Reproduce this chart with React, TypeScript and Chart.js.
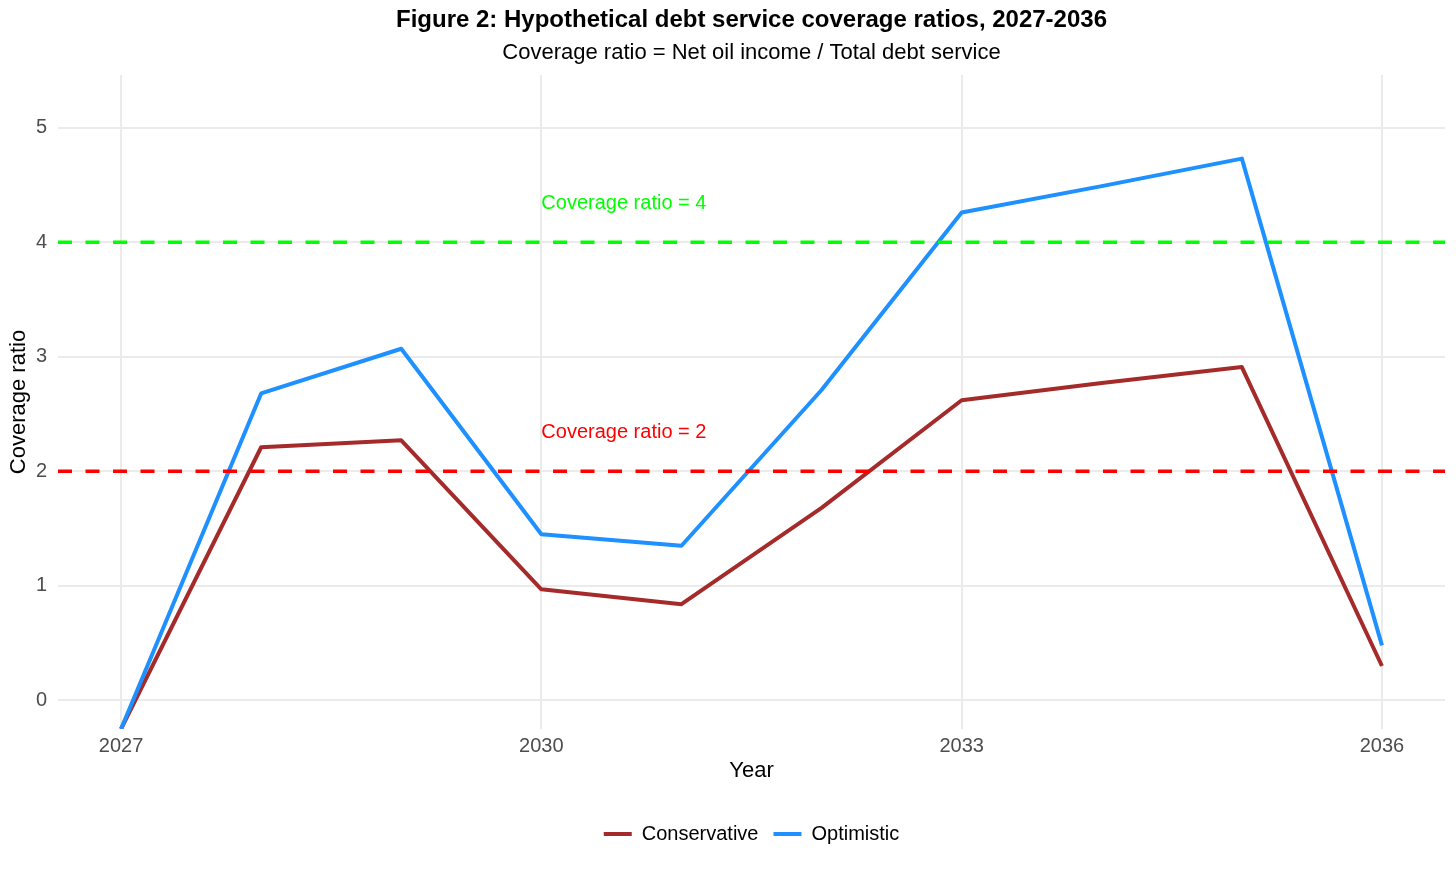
import { useEffect, useRef } from "react";
import { Chart, registerables, Plugin } from "chart.js";

Chart.register(...registerables);

const FONT = '"Liberation Sans", Arial, Helvetica, sans-serif';

// values
const YEARS = [2027, 2028, 2029, 2030, 2031, 2032, 2033, 2034, 2035, 2036];
const CONSERVATIVE = [-0.25, 2.21, 2.27, 0.97, 0.84, 1.68, 2.62, 2.77, 2.91, 0.3];
const OPTIMISTIC = [-0.25, 2.68, 3.07, 1.45, 1.35, 2.71, 4.26, 4.49, 4.73, 0.48];

const X_TICKS = [2027, 2030, 2033, 2036];
const Y_TICKS = [0, 1, 2, 3, 4, 5];

const THRESHOLDS = [4, 2];
const THRESHOLD_COLORS = ["#00FF00", "#FF0000"];
const LABEL_YEAR = 2030;

const X_MIN = 2026.55;
const X_MAX = 2036.45;
const Y_MIN = -0.25;
const Y_MAX = 5.46;

const thresholdLabels: Plugin<"line"> = {
  id: "thresholdLabels",
  afterDatasetsDraw(chart) {
    const { ctx, scales } = chart;
    ctx.save();
    ctx.font = `20px ${FONT}`;
    ctx.textAlign = "left";
    ctx.textBaseline = "middle";
    THRESHOLDS.forEach((t, i) => {
      ctx.fillStyle = THRESHOLD_COLORS[i];
      ctx.fillText(
        `Coverage ratio = ${t}`,
        scales.x.getPixelForValue(LABEL_YEAR),
        scales.y.getPixelForValue(t + 0.34)
      );
    });
    ctx.restore();
  },
};

const CoverageChart = () => {
  const canvasRef = useRef<HTMLCanvasElement>(null);

  useEffect(() => {
    if (!canvasRef.current) return;
    const chart = new Chart(canvasRef.current, {
      type: "line",
      data: {
        datasets: [
          {
            label: "Conservative",
            data: YEARS.map((x, i) => ({ x, y: CONSERVATIVE[i] })),
            borderColor: "#A52A2A",
            backgroundColor: "#A52A2A",
            borderWidth: 4,
            pointRadius: 0,
            borderJoinStyle: "round",
            order: 3,
          },
          {
            label: "Optimistic",
            data: YEARS.map((x, i) => ({ x, y: OPTIMISTIC[i] })),
            borderColor: "#1E90FF",
            backgroundColor: "#1E90FF",
            borderWidth: 4,
            pointRadius: 0,
            borderJoinStyle: "round",
            order: 2,
          },
          ...THRESHOLDS.map((t, i) => ({
            label: `threshold-${t}`,
            data: [
              { x: X_MIN, y: t },
              { x: X_MAX, y: t },
            ],
            borderColor: THRESHOLD_COLORS[i],
            borderWidth: 3.5,
            borderDash: [14, 13.5],
            pointRadius: 0,
            order: 1,
          })),
        ],
      },
      options: {
        animation: false,
        responsive: true,
        maintainAspectRatio: false,
        layout: { padding: { left: 0, right: 11, top: 0, bottom: 20 } },
        plugins: {
          tooltip: { enabled: false },
          title: {
            display: true,
            text: "Figure 2: Hypothetical debt service coverage ratios, 2027-2036",
            color: "#000",
            font: { family: FONT, size: 24, weight: "bold" },
            padding: { top: 5.6, bottom: 2.45 },
            fullSize: false,
          },
          subtitle: {
            display: true,
            text: "Coverage ratio = Net oil income / Total debt service",
            color: "#000",
            font: { family: FONT, size: 22 },
            padding: { top: 2.45, bottom: 9.3 },
            fullSize: false,
          },
          legend: {
            position: "bottom",
            fullSize: false,
            labels: {
              color: "#000",
              font: { family: FONT, size: 20 },
              boxWidth: 28,
              boxHeight: 4,
              padding: 15,
              generateLabels: (c) =>
                Chart.defaults.plugins.legend.labels
                  .generateLabels(c)
                  .filter((item) => (item.datasetIndex ?? 0) < 2)
                  .sort((a, b) => (a.datasetIndex ?? 0) - (b.datasetIndex ?? 0))
                  .map((item) => ({ ...item, fillStyle: item.strokeStyle, lineWidth: 0 })),
            },
          },
        },
        scales: {
          x: {
            type: "linear",
            min: X_MIN,
            max: X_MAX,
            afterBuildTicks: (scale) => {
              scale.ticks = X_TICKS.map((value) => ({ value }));
            },
            afterFit: (scale) => {
              scale.height = 80;
            },
            ticks: {
              callback: (v) => String(v),
              color: "#4D4D4D",
              font: { family: FONT, size: 20 },
              padding: 5,
              maxRotation: 0,
            },
            grid: { color: "#EBEBEB", lineWidth: 2, drawTicks: false },
            border: { display: false },
            title: {
              display: true,
              text: "Year",
              color: "#000",
              font: { family: FONT, size: 22 },
              padding: { top: 0, bottom: 25.3 },
            },
          },
          y: {
            type: "linear",
            min: Y_MIN,
            max: Y_MAX,
            afterBuildTicks: (scale) => {
              scale.ticks = Y_TICKS.map((value) => ({ value }));
            },
            afterFit: (scale) => {
              scale.width = 58;
            },
            ticks: {
              callback: (v) => String(v),
              color: "#4D4D4D",
              font: { family: FONT, size: 20 },
              padding: 11,
            },
            grid: { color: "#EBEBEB", lineWidth: 2, drawTicks: false },
            border: { display: false },
            title: {
              display: true,
              text: "Coverage ratio",
              color: "#000",
              font: { family: FONT, size: 22 },
              padding: { top: 5.3, bottom: 0 },
            },
          },
        },
      },
      plugins: [thresholdLabels],
    });

    return () => {
      chart.destroy();
    };
  }, []);

  return <canvas ref={canvasRef} />;
};

export default function App() {
  return (
    <div
      style={{
        position: "fixed",
        top: 0,
        left: 0,
        width: 1456,
        height: 874,
        background: "#fff",
      }}
    >
      <CoverageChart />
    </div>
  );
}
